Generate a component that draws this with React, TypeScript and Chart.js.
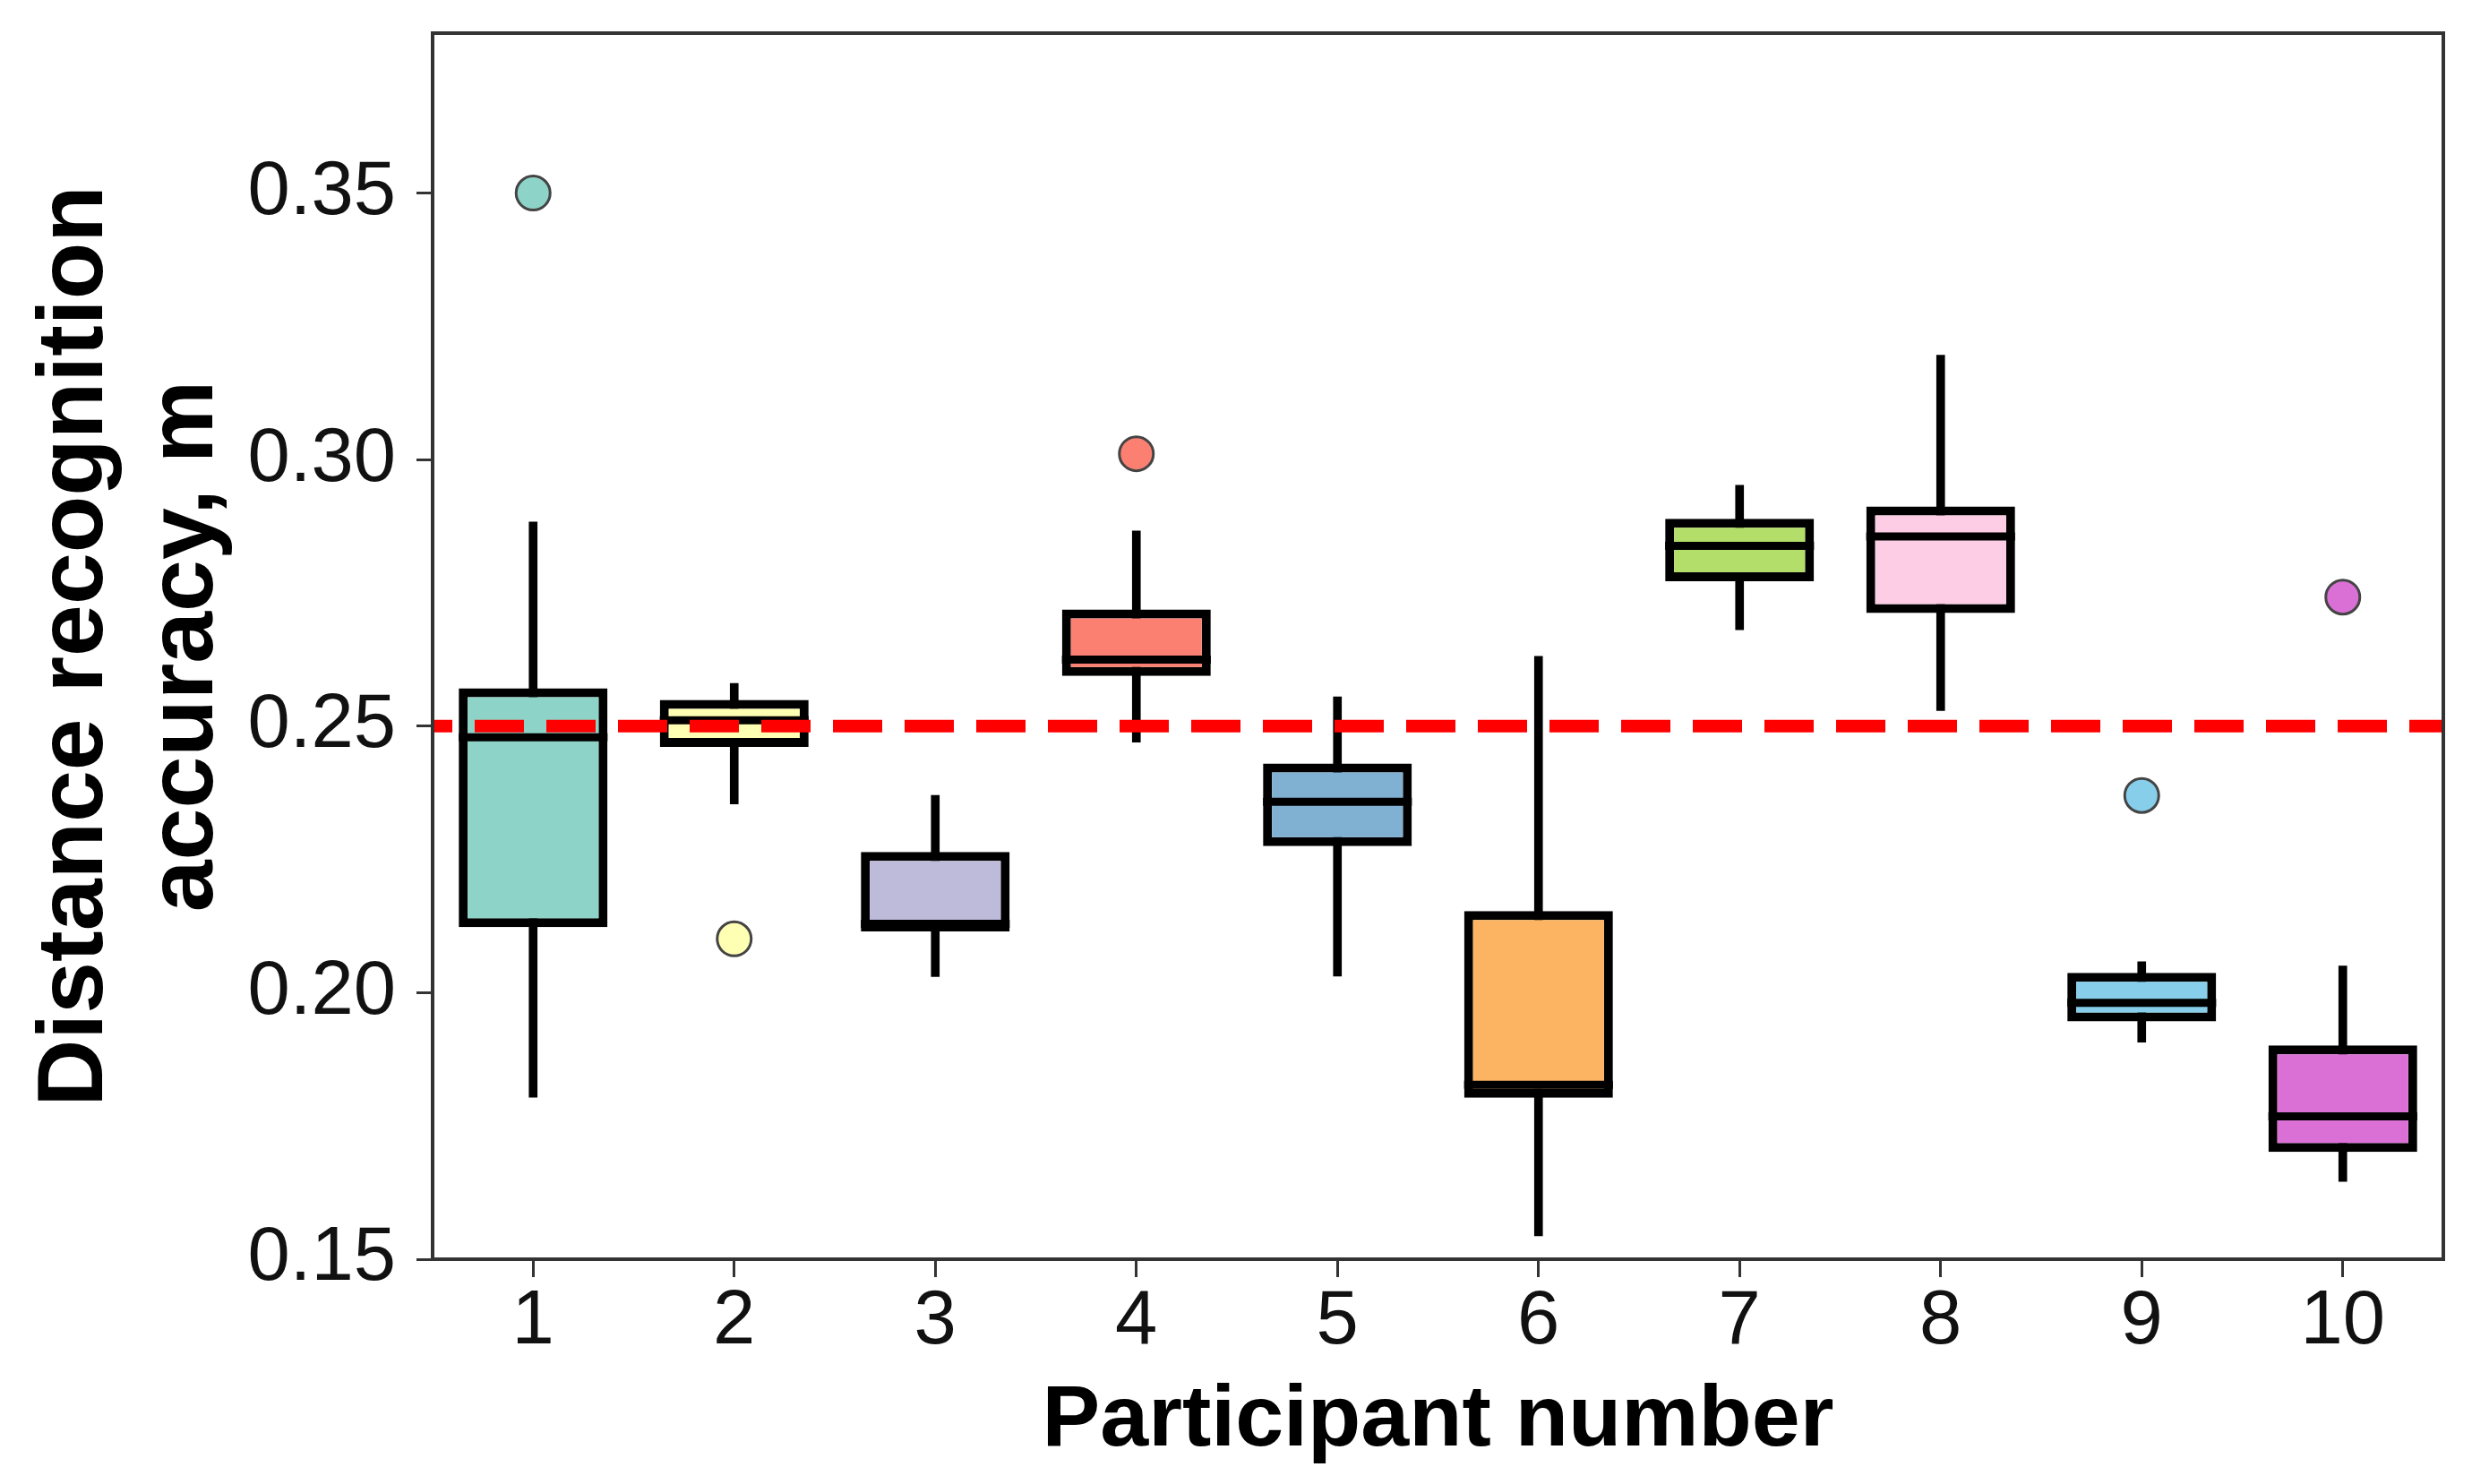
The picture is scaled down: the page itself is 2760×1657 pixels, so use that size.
import React, { useEffect, useRef } from 'react';
import { Chart, registerables } from 'chart.js';

Chart.register(...registerables);

// box plot statistics, one entry per participant
const participants = [1, 2, 3, 4, 5, 6, 7, 8, 9, 10];
const whiskerLow = [0.1804, 0.2354, 0.203, 0.247, 0.2031, 0.1544, 0.2681, 0.2529, 0.1907, 0.1646];
const q1 = [0.2123, 0.2461, 0.2115, 0.2594, 0.2275, 0.1803, 0.2772, 0.2712, 0.1946, 0.1701];
const median = [0.2479, 0.2511, 0.2129, 0.2625, 0.2358, 0.1827, 0.2838, 0.2856, 0.1981, 0.1768];
const q3 = [0.2571, 0.2549, 0.2264, 0.2719, 0.243, 0.2153, 0.2889, 0.2912, 0.2037, 0.1901];
const whiskerHigh = [0.2883, 0.258, 0.237, 0.2866, 0.2555, 0.2631, 0.2952, 0.3196, 0.2058, 0.205];

const outlierParticipant = [1, 2, 4, 9, 10];
const outlierValue = [0.35, 0.2101, 0.3011, 0.237, 0.2742];

const boxColors = ['#8dd3c7', '#ffffb3', '#bebada', '#fb8072', '#80b1d3', '#fdb462', '#b3de69', '#fccde5', '#87ceeb', '#da70d6'];

const yTicks = [0.15, 0.2, 0.25, 0.3, 0.35];
const yMin = 0.15;
const yMax = 0.38;
const threshold = 0.25;

const xMin = participants[0] - 0.5;
const xMax = participants[participants.length - 1] + 0.5;

const textFont = "'Liberation Sans', Arial, sans-serif";

// median bars are drawn right after the boxes, before outliers and the dashed line
const medianLines = {
  id: 'medianLines',
  afterDatasetDraw(chart: any, args: any) {
    if (chart.data.datasets[args.index].label !== 'box') return;
    const { ctx, scales } = chart;
    ctx.save();
    ctx.strokeStyle = '#000';
    ctx.lineWidth = 9;
    args.meta.data.forEach((bar: any, i: number) => {
      const y = scales.y.getPixelForValue(median[i]);
      ctx.beginPath();
      ctx.moveTo(bar.x - bar.width / 2, y);
      ctx.lineTo(bar.x + bar.width / 2, y);
      ctx.stroke();
    });
    ctx.restore();
  },
};

const frame = {
  id: 'frame',
  afterDatasetsDraw(chart: any) {
    const { ctx, chartArea: a } = chart;
    ctx.save();
    ctx.strokeStyle = '#333';
    ctx.lineWidth = 4;
    ctx.strokeRect(a.left, a.top, a.right - a.left, a.bottom - a.top);
    ctx.restore();
  },
};

const noPadding = (scale: any) => {
  scale.paddingTop = 0;
  scale.paddingBottom = 0;
  scale.paddingLeft = 0;
  scale.paddingRight = 0;
};

const BoxPlot: React.FC = () => {
  const canvasRef = useRef<HTMLCanvasElement>(null);
  const chartRef = useRef<Chart>();

  useEffect(() => {
    const ctx = canvasRef.current?.getContext('2d');
    if (!ctx) return;
    if (chartRef.current) chartRef.current.destroy();

    chartRef.current = new Chart(ctx, {
      type: 'bar',
      data: {
        datasets: [
          {
            type: 'line',
            label: 'threshold',
            data: [
              { x: xMin, y: threshold },
              { x: xMax, y: threshold },
            ],
            borderColor: '#ff0000',
            borderWidth: 14,
            borderDash: [55, 25],
            borderDashOffset: 33,
            borderCapStyle: 'butt',
            pointRadius: 0,
            order: 0,
          },
          {
            type: 'scatter',
            label: 'outliers',
            data: outlierParticipant.map((p, i) => ({ x: p, y: outlierValue[i] })),
            pointBackgroundColor: outlierParticipant.map((p) => boxColors[p - 1]),
            pointBorderColor: '#444',
            pointBorderWidth: 3,
            pointRadius: 19,
            pointHoverRadius: 19,
            order: 1,
          },
          {
            type: 'bar',
            label: 'box',
            data: participants.map((p, i) => ({ x: p, y: [q1[i], q3[i]] })),
            backgroundColor: boxColors,
            borderColor: '#000',
            borderWidth: 10,
            borderSkipped: false,
            barPercentage: 0.74,
            categoryPercentage: 1,
            grouped: false,
            order: 2,
          },
          {
            type: 'bar',
            label: 'whisker',
            data: participants.map((p, i) => ({ x: p, y: [whiskerLow[i], whiskerHigh[i]] })),
            backgroundColor: '#000',
            borderWidth: 0,
            barThickness: 9,
            grouped: false,
            order: 3,
          },
        ] as any,
      },
      options: {
        animation: false,
        responsive: true,
        maintainAspectRatio: false,
        layout: { padding: { top: 37, right: 32, left: 0, bottom: 0 } },
        plugins: {
          legend: { display: false },
          tooltip: { enabled: false },
        },
        scales: {
          x: {
            type: 'linear',
            min: xMin,
            max: xMax,
            offset: false,
            afterBuildTicks: (scale: any) => {
              scale.ticks = participants.map((v) => ({ value: v }));
            },
            afterFit: (scale: any) => {
              scale.height = 251;
              noPadding(scale);
            },
            ticks: {
              color: '#111',
              padding: 0,
              font: { family: textFont, size: 85 },
              callback: (v: any) => String(v),
            },
            grid: { offset: false, drawOnChartArea: false, tickLength: 20, color: '#333', lineWidth: 3 },
            border: { display: false },
            title: {
              display: true,
              text: 'Participant number',
              color: '#000',
              font: { family: textFont, size: 97, weight: 'bold' },
              padding: { top: 0, bottom: 12 },
            },
          },
          y: {
            type: 'linear',
            min: yMin,
            max: yMax,
            afterBuildTicks: (scale: any) => {
              scale.ticks = yTicks.map((v) => ({ value: v }));
            },
            afterFit: (scale: any) => {
              scale.width = 483;
              noPadding(scale);
            },
            ticks: {
              color: '#111',
              padding: 23,
              font: { family: textFont, size: 85 },
              callback: (v: any) => Number(v).toFixed(2),
            },
            grid: { drawOnChartArea: false, tickLength: 18, color: '#333', lineWidth: 3 },
            border: { display: false },
            title: {
              display: true,
              text: ['Distance recognition', 'accuracy, m'],
              color: '#000',
              font: { family: textFont, size: 104, weight: 'bold', lineHeight: 1.18 },
              padding: { top: 24, bottom: 0 },
            },
          },
        },
      },
      plugins: [medianLines, frame],
    } as any);

    return () => {
      if (chartRef.current) {
        chartRef.current.destroy();
        chartRef.current = undefined;
      }
    };
  }, []);

  return (
    <div style={{ position: 'absolute', left: 0, top: 0, width: '2760px', height: '1657px', background: '#fff' }}>
      <canvas ref={canvasRef}></canvas>
    </div>
  );
};

export default function App() {
  return <BoxPlot />;
}
